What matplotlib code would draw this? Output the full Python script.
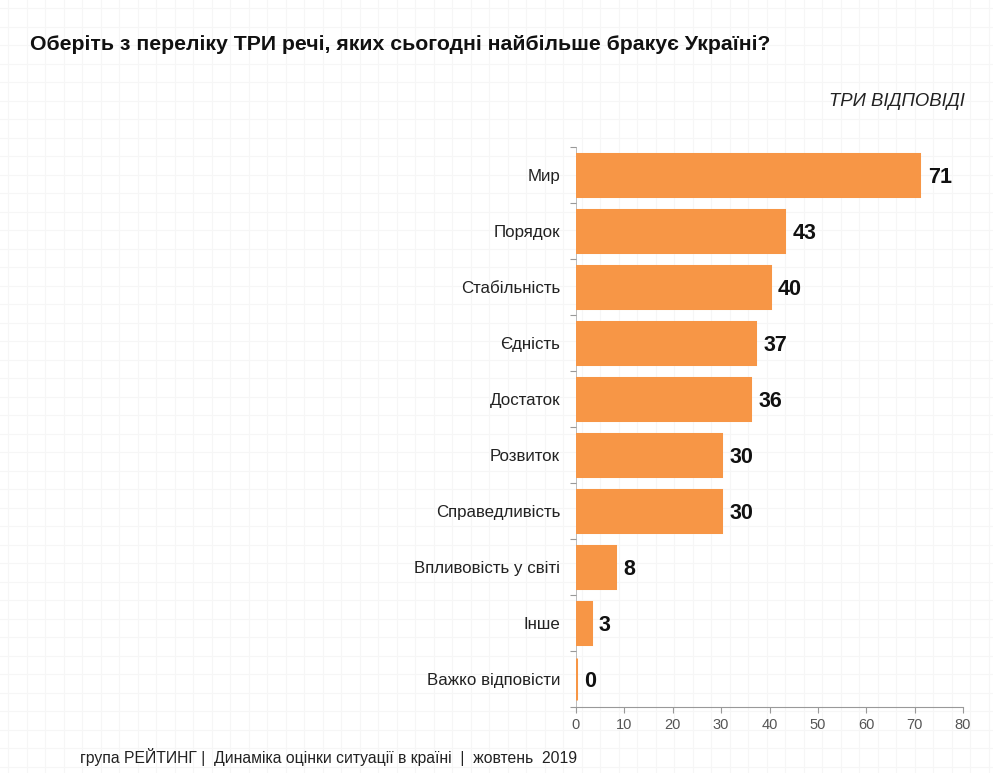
import matplotlib
matplotlib.use("Agg")
import matplotlib.pyplot as plt
import numpy as np

categories = ["Мир", "Порядок", "Стабільність", "Єдність", "Достаток",
              "Розвиток", "Справедливість", "Впливовість у світі", "Інше",
              "Важко відповісти"]
values = [71, 43, 40, 37, 36, 30, 30, 8, 3, 0]
xticks = [0, 10, 20, 30, 40, 50, 60, 70, 80]

title = "Оберіть з переліку ТРИ речі, яких сьогодні найбільше бракує Україні?"
subtitle = "ТРИ ВІДПОВІДІ"
footer = "група РЕЙТИНГ |  Динаміка оцінки ситуації в країні  |  жовтень  2019"

plt.rcParams['font.family'] = ['Liberation Sans', 'DejaVu Sans']

W, H = 993, 773
fig = plt.figure(figsize=(W / 100, H / 100), dpi=100)
fig.patch.set_facecolor("white")

# faint graph-paper background
bg = fig.add_axes([0, 0, 1, 1], zorder=-10)
bg.set_xlim(0, W)
bg.set_ylim(H, 0)
for x in np.arange(8, W, 18.5):
    bg.axvline(x, color="#f6f6f6", lw=0.8)
for y in np.arange(8, H, 18.5):
    bg.axhline(y, color="#f6f6f6", lw=0.8)
bg.axis("off")

ax = fig.add_axes([576 / W, 1 - 707 / H, (963 - 576) / W, (707 - 147) / H])
ax.patch.set_alpha(0)

orange = "#F79646"
y = np.arange(len(categories))
ax.barh(y, values, height=0.75, color=orange, edgecolor=orange, linewidth=2.2,
        zorder=3)
ax.set_ylim(len(categories) - 0.5, -0.5)
ax.set_xlim(0, 80)
ax.set_xticks(xticks)
ax.set_xticklabels([str(t) for t in xticks], fontsize=10.5, color="#555555")

ax.set_yticks(y)
ax.set_yticklabels(categories, fontsize=12.2, color="#222222")
ax.tick_params(axis="y", length=0, pad=11.5)
ax.set_yticks(np.arange(-0.5, len(categories), 1), minor=True)
ax.tick_params(axis="y", which="minor", length=4, color="#999999", width=0.8)
ax.tick_params(axis="x", length=4, color="#999999", width=0.8, pad=4)

for s in ["top", "right"]:
    ax.spines[s].set_visible(False)
ax.spines["left"].set_color("#bbbbbb")
ax.spines["left"].set_linewidth(0.7)
ax.spines["left"].set_zorder(1)
ax.spines["bottom"].set_color("#999999")
ax.spines["bottom"].set_linewidth(0.8)

for yi, v in zip(y, values):
    ax.text(v + 1.7, yi + 0.05, str(v), va="center", ha="left",
            fontsize=15.5, fontweight="bold", color="#111111")

fig.text(30 / W, 1 - 45 / H, title, fontsize=15.3, fontweight="bold",
         color="#111111", va="center", ha="left")
fig.text(965 / W, 1 - 101 / H, subtitle, fontsize=13.3, fontstyle="italic",
         color="#222222", va="center", ha="right")
fig.text(80 / W, 1 - 757 / H, footer, fontsize=11.3, color="#222222",
         va="center", ha="left")

fig.savefig("out.png", dpi=100)
